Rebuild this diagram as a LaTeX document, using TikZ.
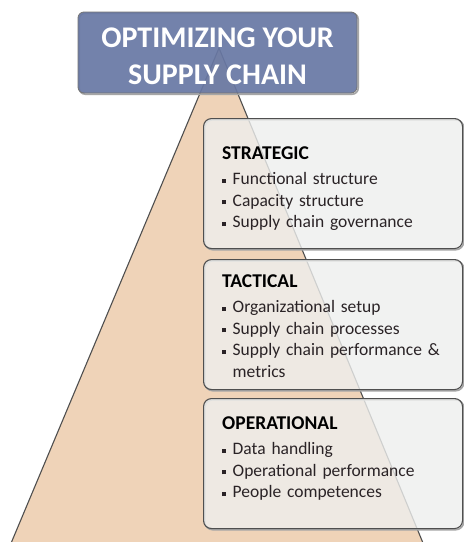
\documentclass[tikz,border=0pt]{standalone}
\usepackage{fontspec}
\setmainfont{Carlito}

\definecolor{peach}{HTML}{EFD3B8}
\definecolor{slate}{HTML}{6878A4}
\definecolor{panelgray}{HTML}{EEEFEE}
\definecolor{edgegray}{HTML}{4F4F4F}
\definecolor{itemtext}{HTML}{2A2326}

\tikzset{
  pyramid/.style={draw=edgegray, line width=1.1pt, fill=peach},
  edgeshadow/.style={preaction={draw=black!35, line width=1.6pt,
    transform canvas={xshift=1.2pt, yshift=-1.2pt}}},
  panel/.style={draw=edgegray, line width=1.1pt, rounded corners=8pt,
    fill=panelgray, fill opacity=0.8, minimum width=259pt,
    minimum height=130pt, anchor=north west, edgeshadow},
  paneltext/.style={text=itemtext, text width=225pt, align=left,
    inner sep=0pt, anchor=north west, font=\fontsize{17.5}{21.8}\selectfont},
  headbox/.style={draw=edgegray!80, line width=0.8pt, rounded corners=6pt,
    fill=slate, fill opacity=0.92, minimum width=279pt,
    minimum height=81pt, edgeshadow},
  headtext/.style={text=white, align=center, inner sep=0pt,
    font=\fontsize{30}{37}\selectfont\bfseries}
}
\newcommand{\sqbul}{\rule[0.2ex]{4pt}{4pt}\hspace{6.5pt}}
\newcommand{\hang}{\hspace*{10.5pt}}
\newcommand{\paneltitle}[1]{\textcolor{black}{\fontsize{19.5}{21.8}\selectfont\textbf{#1}}}

\begin{document}
\begin{tikzpicture}[x=1pt,y=-1pt]
  \clip (0,0) rectangle (464,542);
  \fill[white] (0,0) rectangle (464,542);

  \draw[pyramid] (219,48) -- (4,560) -- (430,560) -- cycle;

  \node[panel] (strategic) at (203,118) {};
  \node[panel] (tactical) at (203,259) {};
  \node[panel] (operational) at (203,398) {};

  \node[paneltext] (strategic-text) at (222,147) {\paneltitle{STRATEGIC}\\[2.5pt]
    \sqbul Functional structure\\
    \sqbul Capacity structure\\
    \sqbul Supply chain governance};
  \node[paneltext] (tactical-text) at (222,275) {\paneltitle{TACTICAL}\\[2.5pt]
    \sqbul Organizational setup\\
    \sqbul Supply chain processes\\
    \sqbul Supply chain performance \&\\
    \hang metrics};
  \node[paneltext] (operational-text) at (222,417) {\paneltitle{OPERATIONAL}\\[2.5pt]
    \sqbul Data handling\\
    \sqbul Operational performance\\
    \sqbul People competences};

  \node[headbox] (title) at (217.5,52.5) {};
  \node[headtext] (title-text) at (217.5,56.5) {OPTIMIZING YOUR\\SUPPLY CHAIN};
\end{tikzpicture}
\end{document}
